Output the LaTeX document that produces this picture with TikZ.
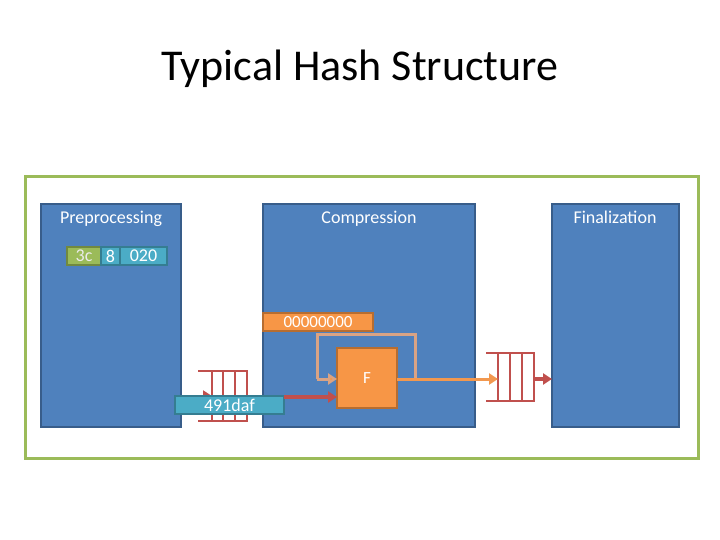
\documentclass[tikz,border=0pt]{standalone}
\usepackage{fontspec}
\setmainfont{Carlito}
\usetikzlibrary{arrows.meta}
\definecolor{hblue}{HTML}{4F81BD}
\definecolor{hblueb}{HTML}{385D8A}
\definecolor{hgreen}{HTML}{9BBB59}
\definecolor{hgreenb}{HTML}{71893F}
\definecolor{horange}{HTML}{F79646}
\definecolor{horangeb}{HTML}{B66D31}
\definecolor{haqua}{HTML}{4BACC6}
\definecolor{haquab}{HTML}{357D91}
\definecolor{hred}{HTML}{C0504D}
\definecolor{htan}{HTML}{D9A384}
\tikzset{
  stage/.style={draw=hblueb, fill=hblue, line width=2pt, inner sep=0pt, outer sep=0pt, anchor=north west},
  slabel/.style={text=white, font=\fontsize{18}{21}\selectfont, inner sep=0pt, anchor=base},
  gbox/.style={draw=hgreenb, fill=hgreen, line width=1.5pt, inner sep=0pt, outer sep=0pt, minimum height=18pt, text=white!92!black, font=\fontsize{18}{20}\selectfont, anchor=north west},
  abox/.style={draw=haquab, fill=haqua, line width=1.5pt, inner sep=0pt, outer sep=0pt, minimum height=18pt, text=white, font=\fontsize{18}{20}\selectfont, anchor=north west},
  obox/.style={draw=horangeb, fill=horange, line width=1.5pt, inner sep=0pt, outer sep=0pt, text=white, font=\fontsize{17}{20}\selectfont, anchor=north west},
  reg/.style={draw=hred, line width=2.4pt},
  redarr/.style={draw=hred, line width=3.5pt, -{Triangle[length=9pt,width=11pt]}},
  orarr/.style={draw=horange!85!htan, line width=3pt, -{Triangle[length=9pt,width=11pt]}},
  looparr/.style={draw=htan, line width=3pt, -{Triangle[length=9pt,width=11pt,fill=horange]}},
}
\begin{document}
\begin{tikzpicture}[x=1pt,y=-1pt]
\useasboundingbox (0,0) rectangle (720,540);
\node[font=\fontsize{44}{50}\selectfont, inner sep=0pt, anchor=base] (title) at (360,81) {Typical Hash Structure};
\node[draw=hgreen, line width=3pt, minimum width=673pt, minimum height=282pt, inner sep=0pt, anchor=north west] (frame) at (24,175) {};
% stages
\node[stage, minimum width=140pt, minimum height=223pt] (pre) at (41,204) {};
\node[stage, minimum width=212pt, minimum height=223pt] (comp) at (263,204) {};
\node[stage, minimum width=127pt, minimum height=223pt] (fin) at (552,204) {};
\node[slabel] (prel) at (111,224) {Preprocessing};
\node[slabel] (compl) at (369,224) {Compression};
\node[slabel] (finl) at (615,224) {Finalization};
% message blocks
\node[gbox, minimum width=34pt] (b3c) at (67,247) {3c};
\node[abox, minimum width=19pt] (b8) at (101,247) {8};
\node[abox, minimum width=47pt] (b020) at (120,247) {020};
% left register
\draw[reg] (198,371) -- (248,371);
\draw[reg] (198,421) -- (248,421);
\foreach \xx in {212,223,235,247} \draw[reg] (\xx,371) -- (\xx,421);
\coordinate (lin) at (199,396);
\draw[redarr, line width=2pt] (lin) -- (212,396);
% IV
\node[obox, minimum width=110pt, minimum height=18pt] (iv) at (263,313) {00000000};
% feedback loop
\coordinate (lt) at (317,334);
\coordinate (rt) at (415,334);
\coordinate (rb) at (415,379);
\coordinate (lb) at (317,379);
\draw[htan, line width=3pt] (rb) -- (rt) -- (lt) -- (lb);
% F
\node[obox, minimum width=60pt, minimum height=60pt, line width=2pt] (F) at (337,348) {F};
\draw[looparr] (lb) -- (F.west |- lb);
% message word
\node[abox, minimum width=109pt, minimum height=18pt] (msg) at (175,396) {491daf};
\draw[redarr] (msg.east |- 0,397) -- (F.west |- 0,397);
% right register
\draw[reg] (486,353) -- (535,353);
\draw[reg] (486,401) -- (535,401);
\foreach \xx in {498,510,522,534} \draw[reg] (\xx,353) -- (\xx,401);
\coordinate (rin) at (498,379);
\draw[orarr] (F.east |- rin) -- (rin);
\draw[redarr] (534,379) -- (fin.west |- rin);
\end{tikzpicture}
\end{document}
